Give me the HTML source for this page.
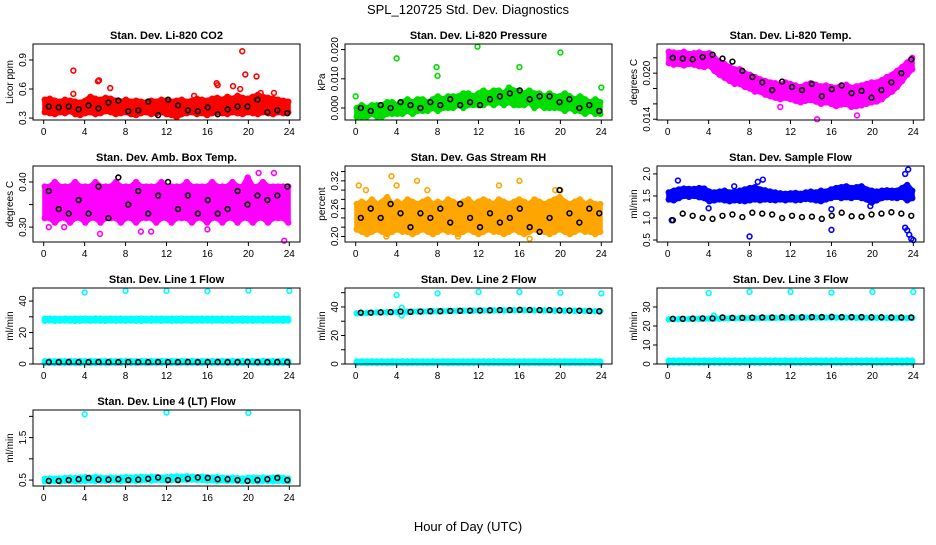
<!DOCTYPE html>
<html><head><meta charset="utf-8"><style>
body{margin:0;background:#fff}
svg text{font-family:"Liberation Sans",sans-serif}
</style></head><body>
<svg id="c" width="936" height="540" xmlns="http://www.w3.org/2000/svg">
<text x="468" y="14" text-anchor="middle" font-size="13">SPL_120725  Std. Dev. Diagnostics</text>
<text x="468" y="531" text-anchor="middle" font-size="13">Hour of Day (UTC)</text>
</svg>
<script>
// ---- data ----
const xTicks=[0,4,8,12,16,20,24];
const co2Lo=[0.36,0.35,0.34,0.36,0.35,0.37,0.34,0.33,0.35,0.36,0.34,0.35,0.37,0.36,0.34,0.35,0.36,0.34,0.33,0.35,0.36,0.34,0.35,0.36,0.34,0.33,0.31,0.34,0.35,0.36,0.34,0.35,0.33,0.35,0.36,0.35,0.34,0.36,0.35,0.34,0.36,0.35,0.34,0.36,0.35,0.34,0.36,0.35,0.36];
const co2Hi=[0.49,0.50,0.48,0.47,0.49,0.48,0.47,0.46,0.48,0.52,0.50,0.49,0.51,0.50,0.48,0.47,0.49,0.47,0.48,0.47,0.46,0.48,0.47,0.49,0.48,0.47,0.48,0.49,0.47,0.48,0.50,0.49,0.48,0.50,0.51,0.49,0.52,0.50,0.53,0.51,0.50,0.52,0.54,0.52,0.51,0.50,0.49,0.48,0.47];
const co2Out=[[2.9,0.79],[2.9,0.55],[5.3,0.68],[5.4,0.69],[6.5,0.61],[14.7,0.53],[16.9,0.66],[17,0.64],[18.5,0.63],[19.2,0.60],[19.4,0.99],[19.7,0.75],[20.8,0.73],[21.2,0.56],[22.5,0.56]];
const co2Blk=[0.42,0.41,0.42,0.39,0.43,0.40,0.46,0.48,0.37,0.38,0.47,0.33,0.49,0.43,0.38,0.37,0.41,0.34,0.39,0.42,0.42,0.49,0.36,0.38,0.35];
const prLo=[-0.003,-0.003,-0.003,-0.002,-0.003,-0.003,-0.002,-0.002,-0.002,-0.002,-0.001,-0.002,-0.001,-0.001,-0.001,0.000,-0.001,0.000,0.000,0.000,0.001,0.000,0.001,0.001,0.001,0.001,0.002,0.001,0.002,0.001,0.002,0.001,0.001,0.001,0.002,0.000,0.001,0.000,0.000,0.000,0.000,-0.001,0.000,-0.001,-0.001,-0.002,-0.001,-0.002,-0.002];
const prHi=[0.000,0.001,0.000,0.001,0.001,0.001,0.002,0.002,0.001,0.002,0.003,0.002,0.003,0.003,0.002,0.003,0.004,0.003,0.004,0.004,0.004,0.005,0.005,0.004,0.005,0.006,0.005,0.006,0.006,0.005,0.007,0.006,0.006,0.005,0.006,0.005,0.005,0.004,0.005,0.004,0.004,0.005,0.004,0.003,0.004,0.003,0.002,0.003,0.002];
const prOut=[[0,0.004],[4,0.017],[7.9,0.014],[8,0.011],[11.9,0.021],[16,0.014],[20,0.019],[24,0.007]];
const prBlk=[0.000,-0.001,0.001,0.000,0.002,0.001,0.000,0.002,0.001,0.003,0.001,0.002,0.001,0.003,0.004,0.005,0.006,0.003,0.004,0.004,0.002,0.003,0.000,0.001,-0.001];
const tLo=[0.0213,0.0211,0.0212,0.0210,0.0212,0.0211,0.0209,0.0208,0.0210,0.0203,0.0198,0.0194,0.0190,0.0186,0.0186,0.0182,0.0180,0.0176,0.0176,0.0172,0.0170,0.0168,0.0166,0.0168,0.0166,0.0164,0.0162,0.0164,0.0165,0.0163,0.0160,0.0162,0.0160,0.0157,0.0159,0.0160,0.0156,0.0157,0.0158,0.0160,0.0162,0.0163,0.0166,0.0172,0.0176,0.0182,0.0190,0.0198,0.0205];
const tHi=[0.0228,0.0227,0.0226,0.0228,0.0225,0.0226,0.0227,0.0225,0.0226,0.0220,0.0215,0.0212,0.0208,0.0205,0.0205,0.0200,0.0198,0.0195,0.0192,0.0190,0.0188,0.0187,0.0185,0.0188,0.0186,0.0184,0.0182,0.0185,0.0187,0.0185,0.0183,0.0184,0.0182,0.0181,0.0184,0.0185,0.0181,0.0183,0.0184,0.0186,0.0188,0.0188,0.0191,0.0195,0.0198,0.0203,0.0208,0.0214,0.0220];
const tOut=[[11,0.0156],[14.6,0.0140],[18.5,0.0145]];
const tBlk=[0.0220,0.0219,0.0218,0.0221,0.0224,0.0219,0.0215,0.0203,0.0195,0.0188,0.0178,0.0189,0.0182,0.0178,0.0186,0.0170,0.0179,0.0184,0.0174,0.0177,0.0168,0.0178,0.0188,0.0200,0.0218];
const abLo=[0.32,0.32,0.31,0.32,0.32,0.31,0.32,0.32,0.31,0.32,0.32,0.31,0.32,0.32,0.32,0.31,0.32,0.32,0.31,0.32,0.32,0.32,0.31,0.32,0.32,0.31,0.32,0.32,0.32,0.31,0.32,0.32,0.31,0.32,0.32,0.31,0.32,0.32,0.31,0.32,0.32,0.31,0.32,0.32,0.31,0.32,0.32,0.32,0.31];
const abHi=[0.39,0.39,0.40,0.39,0.39,0.39,0.40,0.39,0.39,0.39,0.40,0.39,0.39,0.39,0.40,0.39,0.39,0.39,0.40,0.39,0.39,0.39,0.39,0.40,0.39,0.39,0.39,0.39,0.40,0.39,0.39,0.39,0.39,0.40,0.39,0.39,0.39,0.40,0.39,0.39,0.41,0.39,0.39,0.40,0.39,0.39,0.39,0.39,0.39];
const abOut=[[0.5,0.30],[2,0.30],[5.5,0.285],[9.5,0.29],[10.5,0.29],[16,0.295],[21,0.42],[22.5,0.42],[23.5,0.27]];
const abBlk=[0.38,0.34,0.33,0.36,0.33,0.39,0.32,0.41,0.35,0.38,0.33,0.37,0.40,0.34,0.37,0.33,0.36,0.33,0.34,0.38,0.35,0.37,0.36,0.37,0.39];
const rhLo=[0.215,0.21,0.205,0.21,0.215,0.21,0.205,0.21,0.215,0.21,0.21,0.205,0.21,0.215,0.21,0.205,0.21,0.215,0.21,0.21,0.205,0.21,0.215,0.21,0.205,0.21,0.215,0.21,0.21,0.205,0.21,0.215,0.21,0.205,0.21,0.215,0.21,0.21,0.205,0.21,0.215,0.21,0.205,0.21,0.215,0.21,0.21,0.205,0.21];
const rhHi=[0.27,0.275,0.27,0.28,0.27,0.275,0.285,0.27,0.275,0.27,0.28,0.275,0.27,0.275,0.28,0.27,0.275,0.27,0.28,0.275,0.27,0.275,0.28,0.27,0.275,0.28,0.275,0.27,0.28,0.275,0.27,0.275,0.28,0.275,0.27,0.28,0.275,0.27,0.275,0.28,0.285,0.275,0.27,0.275,0.28,0.27,0.275,0.27,0.27];
const rhOut=[[0.3,0.31],[1,0.30],[3.5,0.33],[4,0.31],[6,0.32],[7,0.30],[14,0.31],[16,0.32],[19.5,0.30],[20,0.30],[3,0.20],[10,0.20],[17,0.195]];
const rhBlk=[0.24,0.26,0.24,0.27,0.25,0.22,0.25,0.24,0.26,0.23,0.27,0.24,0.22,0.25,0.23,0.24,0.26,0.22,0.21,0.24,0.30,0.25,0.23,0.26,0.25];
const sfLo=[1.42,1.40,1.45,1.50,1.48,1.50,1.47,1.45,1.38,1.40,1.42,1.40,1.38,1.40,1.39,1.38,1.40,1.42,1.40,1.42,1.41,1.40,1.42,1.40,1.42,1.40,1.41,1.43,1.42,1.40,1.38,1.42,1.45,1.48,1.45,1.47,1.45,1.48,1.45,1.42,1.35,1.40,1.45,1.47,1.46,1.45,1.48,1.40,1.45];
const sfHi=[1.58,1.62,1.65,1.67,1.66,1.66,1.68,1.67,1.60,1.58,1.60,1.62,1.58,1.60,1.62,1.65,1.68,1.70,1.65,1.63,1.60,1.58,1.56,1.55,1.56,1.57,1.55,1.58,1.60,1.58,1.62,1.60,1.65,1.68,1.70,1.72,1.68,1.70,1.72,1.65,1.62,1.60,1.62,1.63,1.62,1.62,1.68,1.75,1.62];
const sfOut=[[0.4,0.95],[1,1.85],[4,1.22],[6.5,1.72],[8,0.58],[8.8,1.82],[9.3,1.87],[16,1.20],[16,0.73],[19.8,1.27],[23.2,2.0],[23.5,2.1],[23.2,0.78],[23.4,0.72],[23.6,0.62],[23.8,0.53],[24,0.5]];
const sfBlk=[0.95,1.1,1.05,1.0,0.98,1.05,1.08,1.02,1.12,1.1,1.08,1.0,1.05,1.02,1.03,0.98,1.05,1.12,1.04,1.03,1.08,1.10,1.13,1.10,1.05];
const l1Lo=[27.5,27.6,27.4,27.5,27.6,27.5,27.4,27.5,27.6,27.5,27.6,27.5,27.4,27.6,27.5,27.6,27.5,27.6,27.5,27.4,27.6,27.5,27.6,27.5,27.6,27.5,27.6,27.5,27.6,27.5,27.6,27.5,27.6,27.5,27.6,27.5,27.6,27.5,27.6,27.5,27.6,27.5,27.6,27.5,27.6,27.5,27.6,27.5,27.6];
const l1Hi=[28.8,28.9,28.8,28.7,28.9,28.8,28.9,28.8,28.9,28.8,29.0,28.9,28.8,28.9,28.8,28.9,28.8,28.9,28.8,28.9,28.8,28.9,28.8,28.9,28.8,28.9,28.8,28.9,28.8,28.9,28.8,28.9,28.8,28.9,28.8,28.9,28.8,28.9,28.8,28.9,28.8,28.9,28.8,28.9,28.8,28.9,28.8,28.9,28.8];
const l1Out=[[4,45.5],[8,46.5],[12,46.5],[16,46.3],[20,46.7],[24,46.5],[0.2,1.5],[23.8,1.8]];
const l1Blk=[1.2,1.2,1.3,1.2,1.2,1.3,1.2,1.2,1.3,1.2,1.2,1.3,1.2,1.2,1.3,1.2,1.2,1.3,1.2,1.2,1.3,1.2,1.2,1.3,1.2];
const l2Lo=[35.5,35.6,35.8,36.0,36.1,36.2,36.3,36.4,36.5,36.5,36.6,36.7,36.8,36.8,36.9,37.0,37.0,37.1,37.2,37.2,37.3,37.3,37.4,37.4,37.5,37.5,37.5,37.6,37.6,37.6,37.7,37.7,37.7,37.7,37.7,37.6,37.6,37.6,37.6,37.5,37.5,37.4,37.4,37.3,37.3,37.2,37.2,37.1,37.0];
const l2Out=[[4,48.3],[8,49.5],[12,50.5],[16,50.5],[20,50.0],[24,49.5],[4.5,39.5],[4.5,34.0]];
const l2Blk=[36.0,36.0,36.2,36.4,36.8,36.6,36.8,37.0,37.0,37.2,37.3,37.4,37.5,37.6,37.8,37.8,38.0,37.9,37.8,37.8,37.6,37.5,37.4,37.2,37.0];
const l3Lo=[23.5,23.6,23.6,23.7,23.7,23.8,23.8,23.8,23.9,23.9,23.9,24.0,24.0,24.0,24.1,24.1,24.1,24.1,24.2,24.2,24.2,24.2,24.3,24.3,24.3,24.3,24.4,24.4,24.4,24.4,24.4,24.4,24.4,24.4,24.4,24.4,24.4,24.3,24.3,24.3,24.3,24.3,24.3,24.2,24.2,24.2,24.2,24.2,24.2];
const l3Out=[[4,37.3],[8,38.0],[12,38.0],[16,37.6],[20,38.0],[24,38.0],[4.5,25.5]];
const l3Blk=[23.8,23.8,23.9,24.0,24.0,24.5,24.3,24.3,24.4,24.5,24.5,24.6,24.6,24.6,24.7,24.7,24.8,24.7,24.7,24.7,24.6,24.6,24.5,24.5,24.5];
const lowLo=[0.6,0.7,0.6,0.7,0.6,0.7,0.6,0.7,0.6,0.7,0.6,0.7,0.6,0.7,0.6,0.7,0.6,0.7,0.6,0.7,0.6,0.7,0.6,0.7,0.6,0.7,0.6,0.7,0.6,0.7,0.6,0.7,0.6,0.7,0.6,0.7,0.6,0.7,0.6,0.7,0.6,0.7,0.6,0.7,0.6,0.7,0.6,0.7,0.6];
const lowHi=[1.8,1.9,1.8,1.9,1.8,1.9,1.8,1.9,1.8,1.9,1.8,1.9,1.8,1.9,1.8,1.9,1.8,1.9,1.8,1.9,1.8,1.9,1.8,1.9,1.8,1.9,1.8,1.9,1.8,1.9,1.8,1.9,1.8,1.9,1.8,1.9,1.8,1.9,1.8,1.9,1.8,1.9,1.8,1.9,1.8,1.9,1.8,1.9,1.8];
const l4Lo=[0.47,0.47,0.48,0.47,0.48,0.48,0.47,0.48,0.48,0.49,0.48,0.49,0.48,0.49,0.49,0.48,0.49,0.49,0.48,0.49,0.50,0.49,0.50,0.50,0.49,0.50,0.50,0.51,0.50,0.51,0.50,0.50,0.49,0.49,0.48,0.49,0.48,0.49,0.48,0.47,0.48,0.48,0.47,0.48,0.48,0.47,0.48,0.48,0.47];
const l4Hi=[0.53,0.54,0.53,0.54,0.55,0.56,0.55,0.56,0.57,0.56,0.57,0.56,0.55,0.56,0.55,0.56,0.57,0.56,0.57,0.58,0.57,0.58,0.57,0.56,0.57,0.58,0.59,0.58,0.59,0.58,0.57,0.58,0.57,0.56,0.57,0.56,0.55,0.56,0.55,0.54,0.55,0.56,0.55,0.56,0.55,0.56,0.57,0.55,0.54];
const l4Out=[[4,2.05],[12,2.09],[20,2.08]];
const l4Blk=[0.48,0.48,0.50,0.52,0.55,0.51,0.51,0.52,0.50,0.51,0.53,0.56,0.50,0.50,0.53,0.56,0.55,0.52,0.52,0.50,0.48,0.50,0.52,0.55,0.50];

const RED='#ff0000',GRN='#00dd00',MAG='#ff00ff',ORG='#ffa500',BLU='#0000ff',CYN='#00ffff',BLK='#000000';
const panels=[
 {name:'co2',title:'Stan. Dev. Li-820 CO2',yl:'Licor ppm',c:0,r:0,ylim:[0.28,1.065],ticks:[0.3,0.6,0.9],labs:['0.3','0.6','0.9'],
  bands:[[co2Lo,co2Hi,RED]],out:[[co2Out,RED]],blk:[[co2Blk,BLK]]},
 {name:'pressure',title:'Stan. Dev. Li-820 Pressure',yl:'kPa',c:1,r:0,ylim:[-0.0041,0.0219],ticks:[0,0.01,0.02],labs:['0.000','0.010','0.020'],
  bands:[[prLo,prHi,GRN]],out:[[prOut,GRN]],blk:[[prBlk,BLK]]},
 {name:'temp',title:'Stan. Dev. Li-820 Temp.',yl:'degrees C',c:2,r:0,ylim:[0.0139,0.0238],ticks:[0.014,0.016,0.018,0.020,0.022],labs:['0.014','','','0.020',''],
  bands:[[tLo,tHi,MAG]],out:[[tOut,MAG]],blk:[[tBlk,BLK]]},
 {name:'amb-box',title:'Stan. Dev. Amb. Box Temp.',yl:'degrees C',c:0,r:1,ylim:[0.267,0.4355],ticks:[0.30,0.35,0.40],labs:['0.30','','0.40'],
  bands:[[abLo,abHi,MAG]],out:[[abOut,MAG]],blk:[[abBlk,BLK]]},
 {name:'rh',title:'Stan. Dev. Gas Stream RH',yl:'percent',c:1,r:1,ylim:[0.188,0.352],ticks:[0.20,0.22,0.24,0.26,0.28,0.30,0.32,0.34],labs:['0.20','','','0.26','','','0.32',''],
  bands:[[rhLo,rhHi,ORG]],out:[[rhOut,ORG]],blk:[[rhBlk,BLK]]},
 {name:'sample-flow',title:'Stan. Dev. Sample Flow',yl:'ml/min',c:2,r:1,ylim:[0.455,2.18],ticks:[0.5,1.0,1.5,2.0],labs:['0.5','1.0','1.5','2.0'],
  bands:[[sfLo,sfHi,BLU]],out:[[sfOut,BLU]],blk:[[sfBlk,BLK]]},
 {name:'line1',title:'Stan. Dev. Line 1 Flow',yl:'ml/min',c:0,r:2,ylim:[0,48.3],ticks:[0,10,20,30,40],labs:['0','','20','','40'],
  bands:[[l1Lo,l1Hi,CYN],[lowLo,lowHi,CYN]],out:[[l1Out,CYN]],blk:[[l1Blk,BLK]]},
 {name:'line2',title:'Stan. Dev. Line 2 Flow',yl:'ml/min',c:1,r:2,ylim:[0,53.3],ticks:[0,10,20,30,40,50],labs:['0','','20','','40',''],
  bands:[[l2Lo,l2Lo,CYN],[lowLo,lowHi,CYN]],out:[[l2Out,CYN]],blk:[[l2Blk,BLK]]},
 {name:'line3',title:'Stan. Dev. Line 3 Flow',yl:'ml/min',c:2,r:2,ylim:[0,40],ticks:[0,10,20,30],labs:['0','10','20','30'],
  bands:[[l3Lo,l3Lo,CYN],[lowLo,lowHi,CYN]],out:[[l3Out,CYN]],blk:[[l3Blk,BLK]]},
 {name:'line4',title:'Stan. Dev. Line 4 (LT) Flow',yl:'ml/min',c:0,r:3,ylim:[0.36,2.15],ticks:[0.5,1.0,1.5,2.0],labs:['0.5','','1.5',''],
  bands:[[l4Lo,l4Hi,CYN]],out:[[l4Out,CYN]],blk:[[l4Blk,BLK]]}
];
const NS='http://www.w3.org/2000/svg';
const svg=document.getElementById('c');
function mk(tag,attrs,parent){const e=document.createElementNS(NS,tag);for(const k in attrs)e.setAttribute(k,attrs[k]);parent.appendChild(e);return e;}
const colX=[33,345,657],rowY=[44,166,288,410],W=267,H=76;
panels.forEach(p=>{
  const x0=colX[p.c],y0=rowY[p.r];
  const g=mk('g',{},svg);
  
  
  const sx=t=>x0+W*0.04+t/24*W*0.92;
  const sy=v=>y0+H-(v-p.ylim[0])/(p.ylim[1]-p.ylim[0])*H;
  const tt=mk('text',{x:x0+W/2,y:y0-5,'text-anchor':'middle','font-size':'11','font-weight':'bold'},g);
  tt.textContent=p.title;
  
  
  const clip=mk('g',{},g);
  
  
  p.bands.forEach(b=>{
    const [lo,hi,col]=b;const n=lo.length;
    const tx=i=>0.1+i*23.8/(n-1);
    let pts=[];
    for(let i=0;i<n;i++)pts.push(sx(tx(i))+','+sy(hi[i]));
    for(let i=n-1;i>=0;i--)pts.push(sx(tx(i))+','+sy(lo[i]));
    const pg=mk('polygon',{points:pts.join(' '),fill:col,stroke:col,'stroke-width':'5','stroke-linejoin':'round'},clip);
    
    
    for(let i=0;i<n;i++){[lo[i],hi[i]].forEach(v=>{
      const c=mk('circle',{cx:sx(tx(i)),cy:sy(v),r:2.4,fill:'none',stroke:col,'stroke-width':1.5},clip);
      
      
    });}
  });
  p.out.forEach(o=>{o[0].forEach(d=>{
    const c=mk('circle',{cx:sx(d[0]),cy:sy(d[1]),r:2.4,fill:'none',stroke:o[1],'stroke-width':1.6},clip);
    
    
  });});
  p.blk.forEach(bk=>{const arr=bk[0],n=arr.length;arr.forEach((v,i)=>{
    const c=mk('circle',{cx:sx(0.5+i*23.3/(n-1)),cy:sy(v),r:2.4,fill:'none',stroke:bk[1],'stroke-width':1.6},clip);
    
    
  });});
  const box=mk('rect',{x:x0,y:y0,width:W,height:H,fill:'none',stroke:'#000','stroke-width':1},g);
  
  
  const ax=mk('g',{},g);
  
  
  mk('line',{x1:sx(0),x2:sx(24),y1:y0+H,y2:y0+H,stroke:'#000'},ax);
  xTicks.forEach(t=>{
    mk('line',{x1:sx(t),x2:sx(t),y1:y0+H,y2:y0+H+4,stroke:'#000'},ax);
    const l=mk('text',{x:sx(t),y:y0+H+15,'text-anchor':'middle','font-size':'10'},ax);
    l.textContent=t;
    
    
  });
  const ay=mk('g',{},g);
  
  
  mk('line',{x1:x0,x2:x0,y1:sy(p.ticks[0]),y2:sy(p.ticks[p.ticks.length-1]),stroke:'#000'},ay);
  p.ticks.forEach((v,i)=>{
    const y=sy(v);
    mk('line',{x1:x0-4,x2:x0,y1:y,y2:y,stroke:'#000'},ay);
    if(p.labs[i]){
      const l=mk('text',{x:x0-7,y:y,'text-anchor':'middle','font-size':'10',transform:`rotate(-90 ${x0-7} ${y})`},ay);
      l.textContent=p.labs[i];
      
      
    }
  });
  const yt=mk('text',{x:x0-20,y:y0+H/2,'text-anchor':'middle','font-size':'10',transform:`rotate(-90 ${x0-20} ${y0+H/2})`},g);
  yt.textContent=p.yl;
  
  
});
</script>
</body></html>
